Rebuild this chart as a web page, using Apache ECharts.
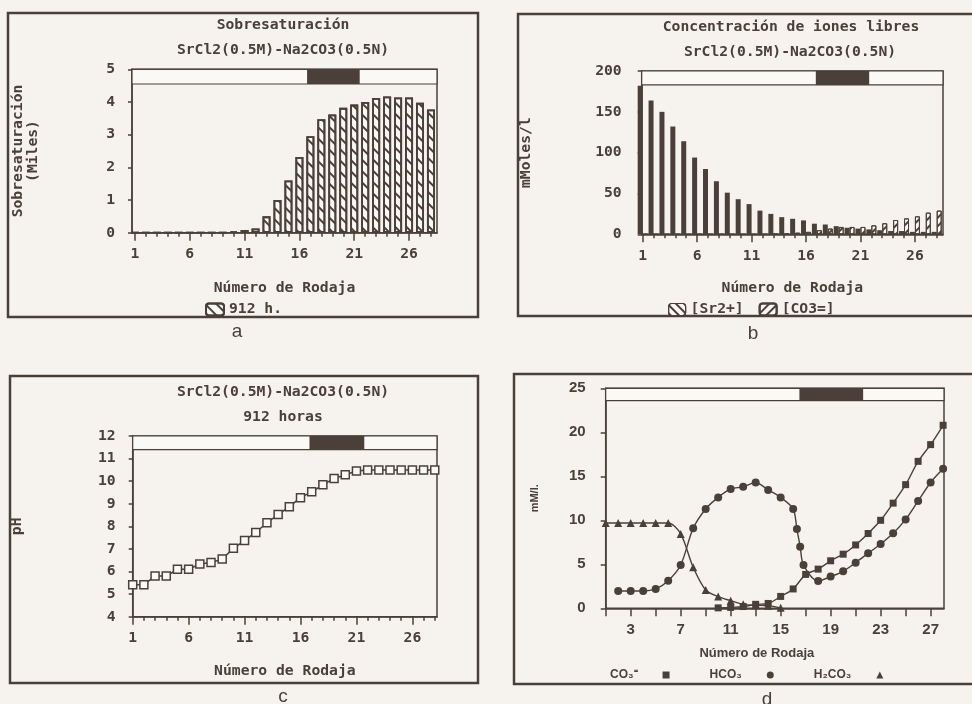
<!DOCTYPE html>
<html><head><meta charset="utf-8">
<script src="https://cdn.jsdelivr.net/npm/echarts@6/dist/echarts.min.js"></script>
<style>html,body{margin:0;padding:0;background:#f6f3ee}#c{width:972px;height:704px}</style>
</head><body><div id="c"></div>
<script>
// ---------- data ----------
const slices = [1,2,3,4,5,6,7,8,9,10,11,12,13,14,15,16,17,18,19,20,21,22,23,24,25,26,27,28];
const xLabelsABC = [1,6,11,16,21,26];
const xTicksD = [1,3,5,7,9,11,13,15,17,19,21,23,25,27];
const xLabelsD = [3,7,11,15,19,23,27];
// (a) Sobresaturación (Miles), 912 h.
const sobresat912 = [0,0,0,0,0,0,0,0,0,0.04,0.08,0.13,0.5,1.0,1.6,2.32,2.95,3.47,3.62,3.82,3.92,4.0,4.12,4.17,4.14,4.14,3.98,3.77];
// (b) Concentración de iones libres (mMoles/l)
const ionSr = [182,164,150,132,114,94,80,65,51,43,37,29,25,21,19,17,13,12,10,8,7,6,5,4,4,3,3,3];
const ionCO3 = [0,0,0,0,0,0,0,0,0,0,0,0,0.5,1,2,3,5,7,9,9,9,11,13.5,17.5,19.5,22,26.5,29];
// (c) pH 912 horas
const pH912 = [5.42,5.42,5.8,5.8,6.1,6.1,6.33,6.4,6.55,7.03,7.37,7.73,8.16,8.52,8.87,9.27,9.53,9.84,10.12,10.28,10.45,10.5,10.5,10.5,10.5,10.5,10.5,10.5];
// (d) mM/l
const h2co3X = [1,2,3,4,5,6,7,8,9,10,11,12,13,14,15];
const h2co3Y = [9.7,9.7,9.7,9.7,9.7,9.7,8.45,4.66,2.08,1.33,0.87,0.45,0.35,0.3,0.05];
const hco3X = [2,3,4,5,6,7,8,9,10,11,12,13,14,15,16,16.3,16.56,16.83,18,19,20,21,22,23,24,25,26,27,28];
const hco3Y = [1.97,1.97,1.97,2.2,3.14,4.92,9.09,11.29,12.6,13.56,13.8,14.3,13.45,12.6,11.29,9.0,7.0,4.92,3.1,3.6,4.2,5.19,6.25,7.3,8.52,10.1,12.2,14.3,15.85];
const co3X = [10,11,12,13,14,15,16,17,18,19,20,21,22,23,24,25,26,27,28];
const co3Y = [0.05,0.1,0.2,0.45,0.55,1.35,2.2,3.85,4.45,5.4,6.15,7.2,8.5,10.0,11.95,14.05,16.7,18.6,20.8];
// precipitation zone (slices) shown in the gel band
const zoneA = [16.7,21.5], zoneB = [16.9,21.8], zoneC = [16.8,21.7], zoneD = [16.5,21.6];

// ---------- style ----------
const ink = '#4a4039';
const paper = '#fbf9f5';
const mono = 'DejaVu Sans Mono';
const T = {fontFamily: mono, fontSize: 14.7, fontWeight: 'bold', color: ink};
const H = {fontFamily: 'Liberation Sans', fontSize: 15, fontWeight: 'bold', color: ink};
function hatch(rot, gap){ return {symbol:'rect', symbolSize:1, dashArrayX:[[1,0]], dashArrayY:[1.5, gap], rotation:rot, color:ink}; }
const BACK = Math.PI/4, FWD = -Math.PI/4;
const zip = (xs, ys) => xs.map((x,i)=>[x, ys[i]]);
const NB = '\u00a0\u00a0\u00a0\u00a0\u00a0\u00a0';

const rA = [0.73, 28.55], rB = [0.91, 28.58], rC = [1, 28.2], rD = [1, 28.07];

function xMain(grid, r, labels, extra){
  return Object.assign({type:'value', gridIndex:grid, min:r[0], max:r[1],
    axisLine:{lineStyle:{color:ink,width:1.5}}, splitLine:{show:false},
    axisTick:{customValues:slices, length:4, lineStyle:{color:ink,width:1.5}},
    axisLabel:Object.assign({customValues:labels, margin:14}, T)}, extra||{});
}
function xMajor(grid, r, ticks, len){
  return {type:'value', gridIndex:grid, min:r[0], max:r[1], position:'bottom',
    axisLine:{show:false}, splitLine:{show:false}, axisLabel:{show:false},
    axisTick:{customValues:ticks, length:len, lineStyle:{color:ink,width:1.5}}};
}
function band(r, lo, hi, zone){
  return {silent:true, data:[
    [{xAxis:r[0], yAxis:lo, itemStyle:{color:paper, borderColor:ink, borderWidth:1.2}}, {xAxis:r[1], yAxis:hi}],
    [{xAxis:zone[0], yAxis:lo, itemStyle:{color:ink, borderWidth:0}}, {xAxis:zone[1], yAxis:hi}]
  ]};
}

const chart = echarts.init(document.getElementById('c'));
chart.setOption({
  backgroundColor:'#f6f3ee',
  animation:false,
  title:[
    {text:'Sobresaturación', left:283, top:25, textAlign:'center', textVerticalAlign:'middle', padding:0, textStyle:T},
    {text:'SrCl2(0.5M)-Na2CO3(0.5N)', left:283, top:50, textAlign:'center', textVerticalAlign:'middle', padding:0, textStyle:T},
    {text:'Concentración de iones libres', left:791, top:27, textAlign:'center', textVerticalAlign:'middle', padding:0, textStyle:T},
    {text:'SrCl2(0.5M)-Na2CO3(0.5N)', left:790, top:52, textAlign:'center', textVerticalAlign:'middle', padding:0, textStyle:T},
    {text:'SrCl2(0.5M)-Na2CO3(0.5N)', left:283, top:392, textAlign:'center', textVerticalAlign:'middle', padding:0, textStyle:T},
    {text:'912 horas', left:283, top:417, textAlign:'center', textVerticalAlign:'middle', padding:0, textStyle:T}
  ],
  grid:[
    {left:132, top:69.3, width:305, height:163.4, show:true, borderColor:ink, borderWidth:1.5},
    {left:641.7, top:71, width:301.3, height:163.3, show:true, borderColor:ink, borderWidth:1.5},
    {left:132.7, top:436, width:304.3, height:180.7, show:true, borderColor:ink, borderWidth:1.5},
    {left:605.7, top:388.3, width:338.3, height:220, show:true, borderColor:ink, borderWidth:1.5}
  ],
  xAxis:[
    xMain(0, rA, xLabelsABC, {name:'Número de Rodaja', nameLocation:'middle', nameGap:48, nameTextStyle:T}),
    xMajor(0, rA, xLabelsABC, 8),
    xMain(1, rB, xLabelsABC, {name:'Número de Rodaja', nameLocation:'middle', nameGap:46, nameTextStyle:T}),
    xMajor(1, rB, xLabelsABC, 8),
    xMain(2, rC, xLabelsABC, {name:'Número de Rodaja', nameLocation:'middle', nameGap:47, nameTextStyle:T}),
    xMajor(2, rC, xLabelsABC, 8),
    {type:'value', gridIndex:3, min:rD[0], max:rD[1],
      axisLine:{lineStyle:{color:ink,width:1.5}}, splitLine:{show:false},
      axisTick:{customValues:xTicksD, length:8, lineStyle:{color:ink,width:1.5}},
      axisLabel:Object.assign({customValues:xLabelsD, margin:14}, H),
      name:'Número de Rodaja', nameLocation:'middle', nameGap:39,
      nameTextStyle:{fontFamily:'Liberation Sans', fontSize:13, fontWeight:'bold', color:ink, padding:[0,36,0,0]}}
  ],
  yAxis:[
    {type:'value', gridIndex:0, min:0, max:5, interval:1, splitLine:{show:false},
      axisLine:{show:true, lineStyle:{color:ink,width:1.5}}, axisTick:{show:true, length:4, lineStyle:{color:ink,width:1.5}},
      axisLabel:Object.assign({margin:17}, T),
      name:'Sobresaturación\n(Miles)', nameLocation:'middle', nameRotate:90, nameGap:91,
      nameTextStyle:Object.assign({lineHeight:15}, T)},
    {type:'value', gridIndex:1, min:0, max:200, interval:50, splitLine:{show:false},
      axisLine:{show:true, lineStyle:{color:ink,width:1.5}}, axisTick:{show:true, length:4, lineStyle:{color:ink,width:1.5}},
      axisLabel:Object.assign({margin:20}, T),
      name:'mMoles/l', nameLocation:'middle', nameRotate:90, nameGap:108, nameTextStyle:T},
    {type:'value', gridIndex:2, min:4, max:12, interval:1, splitLine:{show:false},
      axisLine:{show:true, lineStyle:{color:ink,width:1.5}}, axisTick:{show:true, length:4, lineStyle:{color:ink,width:1.5}},
      axisLabel:Object.assign({margin:17}, T),
      name:'pH', nameLocation:'middle', nameRotate:90, nameGap:108, nameTextStyle:T},
    {type:'value', gridIndex:3, min:0, max:25, interval:5, splitLine:{show:false},
      axisLine:{show:true, lineStyle:{color:ink,width:1.5}}, axisTick:{show:true, length:5, lineStyle:{color:ink,width:1.5}},
      axisLabel:Object.assign({margin:20}, H),
      name:'mM/l.', nameLocation:'middle', nameRotate:90, nameGap:65,
      nameTextStyle:{fontFamily:'Liberation Sans', fontSize:11, fontWeight:'bold', color:ink}}
  ],
  legend:[
    {data:[{name:'912 h.'}], left:205, top:302, itemWidth:18, itemHeight:12, padding:0, textStyle:T},
    {data:[{name:'[Sr2+]', itemStyle:{color:paper, borderColor:ink, borderWidth:1.2, decal:hatch(BACK, 4)}}, {name:'[CO3=]'}],
      left:668, top:302, itemWidth:17, itemHeight:12, itemGap:15, padding:0, textStyle:T},
    {data:[{name:'CO₃⁼', icon:'rect'}, {name:'HCO₃', icon:'circle'}, {name:'H₂CO₃', icon:'triangle'}],
      left:610, top:669, align:'right', itemWidth:7, itemHeight:7, itemGap:40, padding:0,
      formatter: n => n + NB,
      textStyle:{fontFamily:'Liberation Sans', fontSize:12, fontWeight:'bold', color:ink}}
  ],
  series:[
    {name:'912 h.', type:'bar', xAxisIndex:0, yAxisIndex:0, data:zip(slices, sobresat912), barWidth:8,
      itemStyle:{color:paper, borderColor:ink, borderWidth:1.8, decal:hatch(BACK, 5.5)},
      markArea:band(rA, 4.55, 5, zoneA)},
    {name:'[Sr2+]', type:'bar', xAxisIndex:2, yAxisIndex:1, data:zip(slices, ionSr), barWidth:5, barGap:'0%',
      itemStyle:{color:ink}, markArea:band(rB, 183, 200, zoneB)},
    {name:'[CO3=]', type:'bar', xAxisIndex:2, yAxisIndex:1, data:zip(slices, ionCO3), barWidth:5, barGap:'0%',
      itemStyle:{color:paper, borderColor:ink, borderWidth:1, decal:hatch(FWD, 3.5)}},
    {name:'pH', type:'line', xAxisIndex:4, yAxisIndex:2, data:zip(slices, pH912),
      symbol:'rect', symbolSize:8, lineStyle:{color:ink, width:1.5},
      itemStyle:{color:paper, borderColor:ink, borderWidth:1.5},
      markArea:band(rC, 11.4, 12, zoneC)},
    {name:'CO₃⁼', type:'line', xAxisIndex:6, yAxisIndex:3, data:zip(co3X, co3Y), smooth:0.3,
      symbol:'rect', symbolSize:7, lineStyle:{color:ink, width:1.4}, itemStyle:{color:ink},
      markArea:band(rD, 23.6, 25, zoneD)},
    {name:'HCO₃', type:'line', xAxisIndex:6, yAxisIndex:3, data:zip(hco3X, hco3Y), smooth:0.3,
      symbol:'circle', symbolSize:8, lineStyle:{color:ink, width:1.4}, itemStyle:{color:ink}},
    {name:'H₂CO₃', type:'line', xAxisIndex:6, yAxisIndex:3, data:zip(h2co3X, h2co3Y), smooth:0.3,
      symbol:'triangle', symbolSize:8, lineStyle:{color:ink, width:1.4}, itemStyle:{color:ink}}
  ],
  graphic:[
    {type:'rect', silent:true, z:-1, shape:{x:8, y:13, width:470, height:304}, style:{fill:'none', stroke:ink, lineWidth:2.5}},
    {type:'rect', silent:true, z:-1, shape:{x:518, y:14, width:480, height:302}, style:{fill:'none', stroke:ink, lineWidth:2.5}},
    {type:'rect', silent:true, z:-1, shape:{x:10, y:376, width:468, height:307}, style:{fill:'none', stroke:ink, lineWidth:2.5}},
    {type:'rect', silent:true, z:-1, shape:{x:514, y:374, width:480, height:310}, style:{fill:'none', stroke:ink, lineWidth:2.5}},
    {type:'text', silent:true, x:237, y:332, style:{text:'a', fill:ink, font:'19px "Liberation Sans"', textAlign:'center', textVerticalAlign:'middle'}},
    {type:'text', silent:true, x:753, y:334, style:{text:'b', fill:ink, font:'19px "Liberation Sans"', textAlign:'center', textVerticalAlign:'middle'}},
    {type:'text', silent:true, x:283, y:697, style:{text:'c', fill:ink, font:'19px "Liberation Sans"', textAlign:'center', textVerticalAlign:'middle'}},
    {type:'text', silent:true, x:767, y:700, style:{text:'d', fill:ink, font:'19px "Liberation Sans"', textAlign:'center', textVerticalAlign:'middle'}}
  ]
});
</script>
</body></html>
